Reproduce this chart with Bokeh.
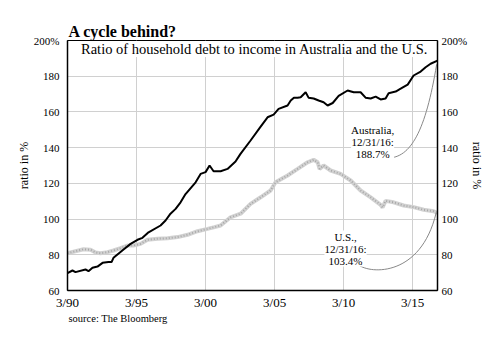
from bokeh.plotting import figure
from bokeh.models import Range1d, FixedTicker, LinearAxis, Label, Title
from bokeh.embed import file_html
from bokeh.resources import INLINE

# ---- data (decimal years, ratio in %) ----
au_year = [1990.20, 1990.56, 1990.78, 1991.50, 1991.72, 1992.01, 1992.37, 1992.74, 1993.17, 1993.39,
           1993.53, 1994.26, 1994.77, 1995.27, 1995.63, 1996.07, 1996.94, 1997.30, 1997.66, 1998.03,
           1998.39, 1998.75, 1999.48, 1999.84, 2000.20, 2000.49, 2000.78, 2001.29, 2001.79, 2002.37,
           2002.73, 2003.46, 2004.19, 2004.69, 2005.13, 2005.49, 2006.14, 2006.37, 2006.60, 2006.87,
           2007.09, 2007.45, 2007.66, 2008.03, 2008.39, 2008.75, 2009.04, 2009.41, 2009.84, 2010.49,
           2010.93, 2011.43, 2011.79, 2012.16, 2012.52, 2012.88, 2013.24, 2013.46, 2013.97, 2014.33,
           2014.84, 2015.27, 2015.78, 2016.14, 2016.50, 2017.00]
au_val = [69.7, 71.2, 70.3, 71.8, 70.8, 72.7, 73.4, 75.5, 75.9, 75.9,
          78.3, 83.0, 86.1, 88.4, 89.5, 92.6, 96.4, 99.2, 103.0, 105.7,
          109.4, 114.0, 120.6, 125.3, 126.3, 130.0, 126.8, 126.8, 128.1, 132.2,
          136.5, 144.0, 151.8, 157.0, 158.5, 161.7, 163.6, 166.4, 168.0, 168.0,
          168.2, 171.0, 168.0, 167.5, 166.4, 165.4, 163.6, 165.0, 169.0, 172.0,
          171.0, 171.0, 168.0, 167.5, 168.6, 167.0, 167.5, 170.5, 171.4, 173.0,
          175.3, 180.4, 182.6, 185.0, 187.0, 188.7]

us_year = [1990.20, 1990.78, 1991.36, 1991.87, 1992.23, 1992.59, 1993.10, 1993.53, 1994.04, 1994.55,
           1994.98, 1995.49, 1996.00, 1996.72, 1997.45, 1998.17, 1998.90, 1999.62, 2000.34, 2000.85,
           2001.29, 2002.01, 2002.74, 2003.46, 2004.19, 2004.91, 2005.27, 2006.14, 2006.87, 2007.59,
           2008.03, 2008.32, 2008.46, 2008.75, 2009.26, 2009.98, 2010.71, 2011.43, 2012.16, 2012.88,
           2013.02, 2013.24, 2013.82, 2014.55, 2015.27, 2016.00, 2016.72, 2017.00]
us_val = [80.9, 82.0, 83.1, 82.8, 81.3, 80.9, 81.5, 82.4, 83.7, 85.2,
          85.2, 86.1, 88.4, 89.0, 89.3, 89.9, 91.2, 93.2, 94.5, 95.5,
          96.4, 101.0, 103.0, 108.5, 112.2, 116.0, 120.6, 124.4, 128.1, 131.8,
          133.2, 131.8, 128.1, 130.0, 127.2, 125.3, 121.6, 116.0, 112.2, 108.0,
          106.5, 110.2, 109.4, 107.6, 106.7, 105.2, 104.4, 103.4]

x_ticks = [1990.2, 1995.2, 2000.2, 2005.2, 2010.2, 2015.2]
x_tick_labels = ["3/90", "3/95", "3/00", "3/05", "3/10", "3/15"]
y_ticks = [60, 80, 100, 120, 140, 160, 180, 200]

title_text = "A cycle behind?"
subtitle_text = "Ratio of household debt to income in Australia and the U.S."
source_text = "source: The Bloomberg"
au_note = "Australia,\n12/31/16:\n188.7%"
us_note = "U.S.,\n12/31/16:\n103.4%"

SERIF = "Liberation Serif"

p = figure(width=500, height=347, output_backend="svg", toolbar_location=None,
           x_range=Range1d(1990.2, 2017.0), y_range=Range1d(60, 200),
           min_border_left=67, min_border_right=63, min_border_top=40, min_border_bottom=57)
p.background_fill_color = "white"
p.border_fill_color = "white"
p.outline_line_color = "black"
p.outline_line_width = 1

# title
p.title.text = title_text
p.title.align = "left"
p.title.text_font = SERIF
p.title.text_font_size = "16px"
p.title.text_font_style = "bold"
p.title.text_color = "black"
p.title.offset = 1
p.title.standoff = 2

# source line
src = Title(text=source_text, align="left", text_font=SERIF, text_font_size="10.5px",
            text_font_style="normal", text_color="black", offset=1, standoff=0,
            vertical_align="top")
p.add_layout(src, "below")

# axes
p.xaxis.ticker = FixedTicker(ticks=x_ticks)
p.xaxis.major_label_overrides = dict(zip(x_ticks, x_tick_labels))
p.xaxis.major_label_text_font = SERIF
p.xaxis.major_label_text_font_size = "13px"
p.xaxis.major_label_text_color = "black"
p.xaxis.major_label_standoff = 4
p.xaxis.major_tick_out = 0
p.xaxis.major_tick_in = 0
p.xaxis.minor_tick_out = 0
p.xaxis.minor_tick_in = 0
p.xaxis.axis_line_width = 1.5
p.xaxis.axis_line_color = "black"

p.yaxis.ticker = FixedTicker(ticks=y_ticks)
p.yaxis.major_label_overrides = {200: "200%"}
p.yaxis.major_label_text_font = SERIF
p.yaxis.major_label_text_font_size = "11px"
p.yaxis.major_label_text_color = "black"
p.yaxis.major_label_standoff = 8
p.yaxis.major_tick_out = 0
p.yaxis.major_tick_in = 0
p.yaxis.minor_tick_out = 0
p.yaxis.minor_tick_in = 0
p.yaxis.axis_line_width = 1.5
p.yaxis.axis_line_color = "black"
p.yaxis.axis_label = "ratio in %"
p.yaxis.axis_label_text_font = SERIF
p.yaxis.axis_label_text_font_size = "12px"
p.yaxis.axis_label_text_font_style = "normal"
p.yaxis.axis_label_text_color = "black"
p.yaxis.axis_label_standoff = 0

ry = LinearAxis(ticker=FixedTicker(ticks=y_ticks), major_label_overrides={200: "200%"})
ry.major_label_text_font = SERIF
ry.major_label_text_font_size = "11px"
ry.major_label_text_color = "black"
ry.major_label_standoff = 4
ry.major_tick_out = 0
ry.major_tick_in = 0
ry.minor_tick_out = 0
ry.minor_tick_in = 0
ry.axis_line_width = 1.5
ry.axis_line_color = "black"
ry.axis_label = "ratio in %"
ry.axis_label_text_font = SERIF
ry.axis_label_text_font_size = "12px"
ry.axis_label_text_font_style = "normal"
ry.axis_label_text_color = "black"
ry.axis_label_standoff = 0
p.add_layout(ry, "right")

# grid
p.xgrid.ticker = FixedTicker(ticks=x_ticks)
p.ygrid.ticker = FixedTicker(ticks=y_ticks)
p.grid.grid_line_color = "#d0d0d0"
p.grid.grid_line_width = 1

# series
p.line(us_year, us_val, line_color="#d2d2d2", line_width=4)
p.line(us_year, us_val, line_color="#a8a8a8", line_width=2, line_dash="1 2")
p.line(au_year, au_val, line_color="black", line_width=2)

# connectors
p.bezier(x0=[2013.39], y0=[134.2], x1=[au_year[-1] - 0.06], y1=[au_val[-1] - 2],
         cx0=[2015.06], cy0=[134.2], cx1=[2016.14], cy1=[149.3],
         line_color="#888888", line_width=1)
p.bezier(x0=[2011.29], y0=[74.3], x1=[us_year[-1] - 0.1], y1=[us_val[-1]],
         cx0=[2012.16], cy0=[69.2], cx1=[2015.78], cy1=[67.6],
         line_color="#888888", line_width=1)

# texts
p.add_layout(Label(x=2003.75, y=195.2, text=subtitle_text, text_font=SERIF, text_font_size="14.5px",
                   text_align="center", text_baseline="middle", background_fill_color="white",
                   text_color="black"))
p.add_layout(Label(x=2012.30, y=143.1, text=au_note, text_font=SERIF, text_font_size="11px",
                   text_align="center", text_baseline="middle", background_fill_color="white",
                   text_line_height=1.0, text_color="black"))
p.add_layout(Label(x=2010.34, y=83.5, text=us_note, text_font=SERIF, text_font_size="11px",
                   text_align="center", text_baseline="middle", background_fill_color="white",
                   text_line_height=1.0, text_color="black"))

open("out.html", "w").write(file_html(p, INLINE))
